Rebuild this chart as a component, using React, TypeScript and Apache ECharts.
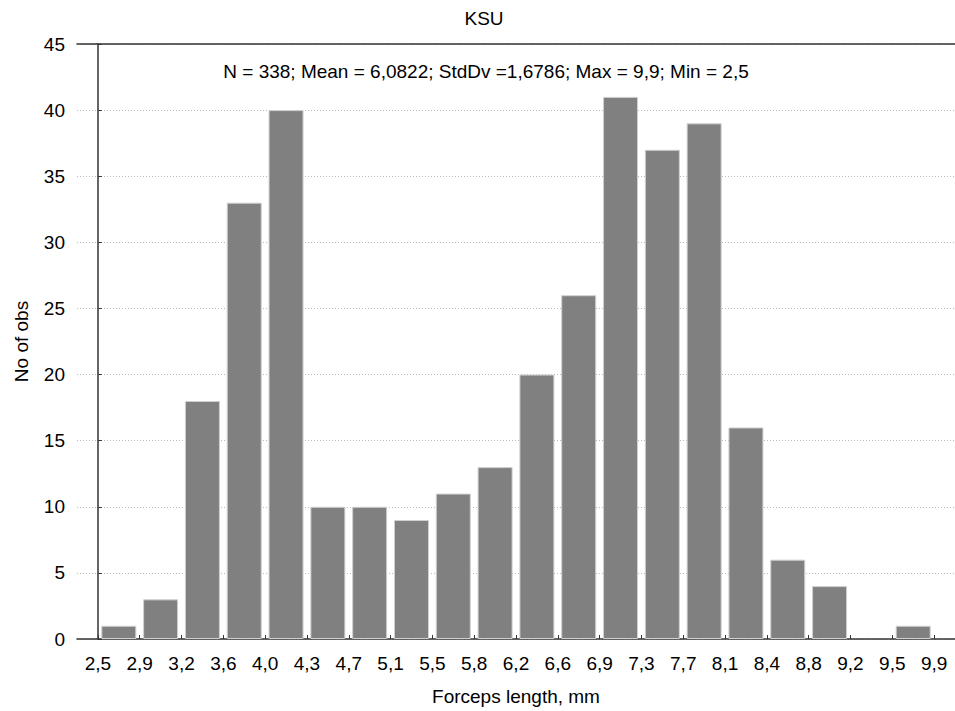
import React, { useEffect, useRef } from "react";
import * as echarts from "echarts";

const edgeLabels = ["2,5", "2,9", "3,2", "3,6", "4,0", "4,3", "4,7", "5,1", "5,5", "5,8", "6,2", "6,6", "6,9", "7,3", "7,7", "8,1", "8,4", "8,8", "9,2", "9,5", "9,9"];
const counts = [1, 3, 18, 33, 40, 10, 10, 9, 11, 13, 20, 26, 41, 37, 39, 16, 6, 4, 0, 1];
const titleText = "KSU";
const statsText = "N = 338; Mean = 6,0822; StdDv =1,6786; Max = 9,9; Min = 2,5";
const xName = "Forceps length, mm";
const yName = "No of obs";
const yTicks = { min: 0, max: 45, interval: 5 };

const FONT = "'Liberation Sans', Arial, sans-serif";

export default function App() {
  const ref = useRef<HTMLDivElement>(null);
  useEffect(() => {
    if (!ref.current) return;
    const chart = echarts.init(ref.current, null, { renderer: "svg" });
    const barData = counts.map((v, i) => [i + 0.5, v === 0 ? "-" : v]);
    chart.setOption({
      animation: false,
      backgroundColor: "#ffffff",
      textStyle: { fontFamily: FONT, color: "#000" },
      grid: { left: 77, right: 0, top: 44, bottom: 69, containLabel: false },
      graphic: [
        {
          type: "text",
          x: 484,
          y: 18,
          style: { text: titleText, font: `19px ${FONT}`, fill: "#000", align: "center", verticalAlign: "middle" },
        },
        {
          type: "text",
          x: 486,
          y: 71,
          style: { text: statsText, font: `19px ${FONT}`, fill: "#000", align: "center", verticalAlign: "middle" },
        },
      ],
      xAxis: [
        {
          type: "category",
          data: edgeLabels,
          boundaryGap: true,
          position: "bottom",
          axisLine: { show: true, onZero: false, lineStyle: { color: "#333", width: 1.5 } },
          axisTick: { show: true, inside: true, alignWithLabel: true, interval: 0, length: 4, lineStyle: { color: "#333" } },
          axisLabel: { interval: 0, color: "#000", fontSize: 19, fontFamily: FONT, margin: 15 },
          splitLine: { show: false },
          name: xName,
          nameLocation: "middle",
          nameGap: 48,
          nameTextStyle: { fontSize: 19, fontFamily: FONT, color: "#000" },
        },
        {
          type: "value",
          min: -0.5,
          max: 20.5,
          position: "top",
          axisLine: { show: true, onZero: false, lineStyle: { color: "#333", width: 1.5 } },
          axisTick: { show: false },
          axisLabel: { show: false },
          splitLine: { show: false },
        },
      ],
      yAxis: {
        type: "value",
        min: yTicks.min,
        max: yTicks.max,
        interval: yTicks.interval,
        axisLine: { show: true, lineStyle: { color: "#333", width: 1.5 } },
        axisTick: { show: true, inside: true, length: 4, lineStyle: { color: "#333" } },
        axisLabel: { color: "#000", fontSize: 19, fontFamily: FONT, margin: 12 },
        splitLine: { show: true, lineStyle: { color: "#b8b8b8", type: [1, 2], width: 1 } },
        name: yName,
        nameLocation: "middle",
        nameGap: 46,
        nameTextStyle: { fontSize: 19, fontFamily: FONT, color: "#000" },
      },
      series: [
        {
          type: "bar",
          xAxisIndex: 1,
          data: barData,
          barWidth: 35,
          itemStyle: { color: "#808080", borderColor: "#d0d0d0", borderWidth: 1 },
        },
      ],
    });
    return () => chart.dispose();
  }, []);
  return <div ref={ref} style={{ position: "fixed", left: 0, top: 0, width: 955, height: 711 }} />;
}
